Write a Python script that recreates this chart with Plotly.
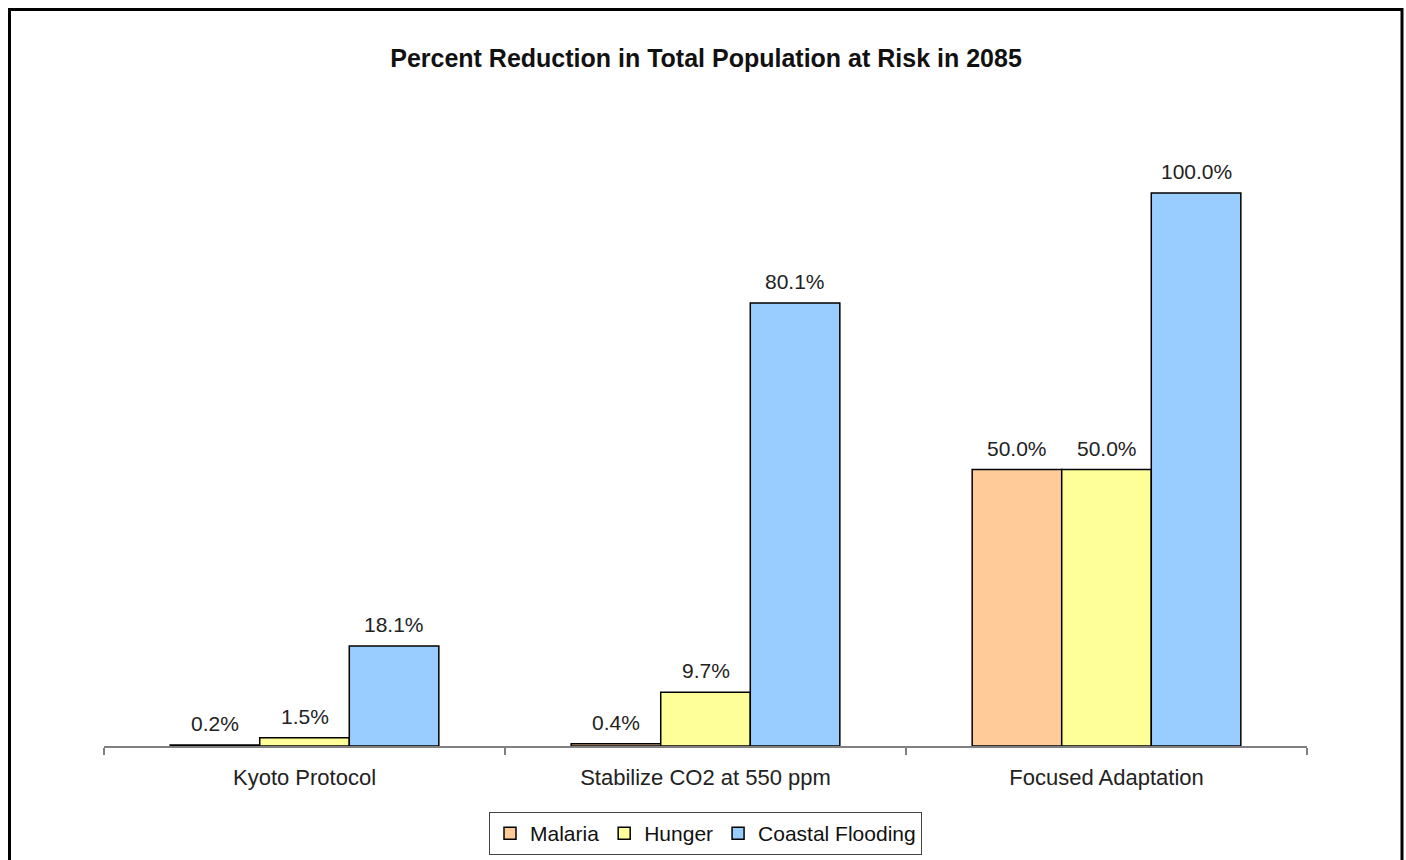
import plotly.graph_objects as go

categories = ["Kyoto Protocol", "Stabilize CO2 at 550 ppm", "Focused Adaptation"]
series_names = ["Malaria", "Hunger", "Coastal Flooding"]
malaria = [0.2, 0.4, 50.0]
hunger = [1.5, 9.7, 50.0]
coastal = [18.1, 80.1, 100.0]
colors = ["#FFCC99", "#FFFF99", "#99CCFF"]

values = [malaria, hunger, coastal]
W, H = 1406, 860
L, R, T, B = 104, 1307, 120, 746
ymax = (B - T) / 5.53

fig = go.Figure()
for name, vals, col in zip(series_names, values, colors):
    fig.add_trace(go.Bar(
        x=categories, y=vals, name=name,
        marker=dict(color=col, line=dict(color="#000000", width=1.5)),
    ))

FONT = "Liberation Sans, Arial, sans-serif"
bar_px = (R - L) / 3 * 0.67 / 3
annotations = []
for i, vals in enumerate(values):
    for c, v in zip(categories, vals):
        annotations.append(dict(
            x=c, y=v, xref="x", yref="y", text=f"{v:.1f}%", showarrow=False,
            xshift=(i - 1) * bar_px, yanchor="bottom", yshift=8,
            font=dict(family=FONT, size=21, color="#222222"),
        ))

def px2x(px):
    return (px - L) / (R - L)

def px2y(py):
    return (B - py) / (B - T)

fig.add_shape(type="rect", xref="paper", yref="paper",
              x0=px2x(9.5), x1=px2x(1402), y0=px2y(900), y1=px2y(9.5),
              line=dict(color="#000000", width=3), fillcolor="rgba(0,0,0,0)")

fig.update_layout(
    width=W, height=H,
    margin=dict(l=L, r=W - R, t=T, b=H - B, autoexpand=False),
    paper_bgcolor="#FFFFFF", plot_bgcolor="#FFFFFF",
    barmode="group", bargap=0.33, bargroupgap=0,
    title=dict(text="<b>Percent Reduction in Total Population at Risk in 2085</b>",
               x=706 / W, xanchor="center",
               y=1 - 58 / H, yanchor="middle",
               font=dict(family=FONT, size=25, color="#111111")),
    xaxis=dict(showline=True, linecolor="#808080", linewidth=2,
               ticks="outside", ticklen=7, tickcolor="#808080", tickwidth=2,
               tickson="boundaries", showgrid=False, ticklabelstandoff=11,
               tickfont=dict(family=FONT, size=22, color="#222222")),
    yaxis=dict(range=[0, ymax], visible=False, showgrid=False, zeroline=False),
    legend=dict(orientation="h", x=0.5, xanchor="center",
                y=px2y(812), yanchor="top",
                bordercolor="#444444", borderwidth=1,
                font=dict(family=FONT, size=21, color="#111111"),
                itemwidth=30, tracegroupgap=0),
    annotations=annotations,
    showlegend=True,
)

fig.write_html(
    "out.html",
    config={"displayModeBar": False},
    post_script="document.documentElement.style.overflow='hidden';"
                "document.body.style.margin='0';document.body.style.overflow='hidden';",
)
